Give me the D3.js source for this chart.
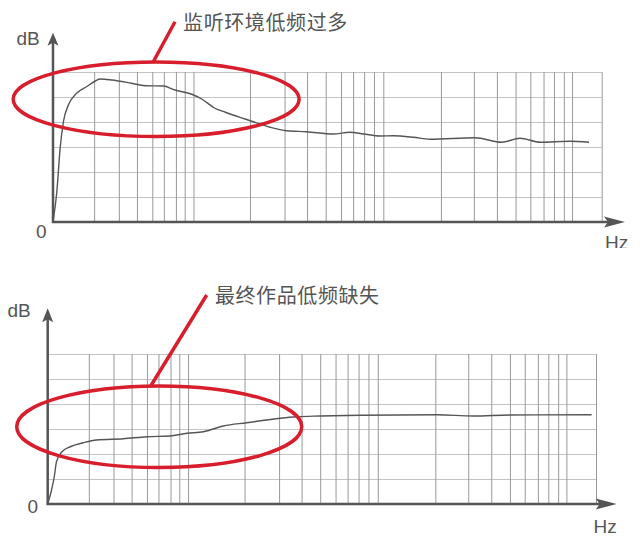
<!DOCTYPE html>
<html>
<head>
<meta charset="utf-8">
<script src="https://cdn.jsdelivr.net/npm/d3@7"></script>
<style>
  html, body { margin: 0; padding: 0; background: #fff; }
  svg { display: block; }
  text { font-family: "Liberation Sans", "Noto Sans CJK SC", sans-serif; fill: #555; }
  .cjk { font-family: "Noto Sans CJK SC", sans-serif; }
</style>
</head>
<body>
<svg id="chart" width="640" height="539"></svg>
<script>
// Grid: x in relative frequency units 0..100 (pseudo-log grid), y in dB units 0..6
const gridX = [7.5, 12.0, 15.3, 18.1, 20.2, 22.4, 24.0, 25.6,
               35.9, 42.2, 46.3, 49.7, 52.5, 54.7, 56.7, 58.5, 60.2,
               70.7, 76.7, 80.9, 84.3, 87.0, 89.4, 91.3, 93.1, 94.6, 100];
const gridY = [1, 2, 3, 4, 5, 6];

// Top: monitoring room, too much low end
const topX = [0, 0.7, 1.3, 1.9, 2.8, 4.3, 6.1, 7.7, 8.6, 10.7, 14.3, 16.8, 20.1, 22.2,
              25.3, 27.1, 29.5, 31.4, 35.0, 36.5, 39.6, 42.6, 46.2, 51.1, 54.1, 56.6,
              59.6, 62.0, 65.7, 68.7, 76.9, 81.8, 85.1, 88.8, 94.2, 97.7];
const topY = [0, 1.21, 2.95, 4.01, 4.68, 5.15, 5.41, 5.64, 5.72, 5.68, 5.55, 5.45, 5.44, 5.28,
              5.11, 4.92, 4.55, 4.39, 4.12, 4.01, 3.79, 3.65, 3.61, 3.52, 3.59, 3.52,
              3.44, 3.45, 3.39, 3.31, 3.37, 3.19, 3.35, 3.19, 3.23, 3.19];

// Bottom: final mix, lacking low end
const botX = [0, 0.7, 1.2, 1.6, 2.6, 4.1, 6.5, 8.9, 13.8, 18.1, 22.3, 25.4, 28.4,
              32.0, 36.3, 42.4, 45.4, 49.7, 57.0, 71.0, 77.6, 84.3, 99.2];
const botY = [0, 0.56, 1.09, 1.69, 2.09, 2.29, 2.45, 2.56, 2.61, 2.69, 2.72, 2.83, 2.89,
              3.12, 3.25, 3.43, 3.49, 3.52, 3.55, 3.57, 3.52, 3.56, 3.57];

const labels = ["监听环境低频过多", "最终作品低频缺失"];

const charts = [
  { xs: topX, ys: topY, label: labels[0],
    left: 53, right: 601.7, base: 222, top: 72, yTip: 32.7, yHead: 13, xTip: 625,
    dB: [16.5, 45], zero: [36, 237.5], hz: [605, 248.5],
    ell: { cx: 18.8, cy: 4.91, rx: 26.06, ry: 1.49 },
    call: [[22.24, 8.01], [18.28, 6.41]], text: [23.7, 7.68] },
  { xs: botX, ys: botY, label: labels[1],
    left: 47.7, right: 596, base: 504, top: 354, yTip: 308.3, yHead: 14, xTip: 616.7,
    dB: [7.5, 317], zero: [27.5, 512.5], hz: [593.5, 532.5],
    ell: { cx: 20.34, cy: 3.09, rx: 25.99, ry: 1.63 },
    call: [[29.0, 8.36], [18.79, 4.72]], text: [30.5, 8.04] }
];

const svg = d3.select("#chart");
const defs = svg.append("defs");
defs.append("clipPath").attr("id", "cut")
  .append("rect").attr("x", 0).attr("y", 0).attr("width", 640).attr("height", 248);

charts.forEach(function(c, i){
  const x = d3.scaleLinear().domain([0, 100]).range([c.left, c.right]);
  const y = d3.scaleLinear().domain([0, 6]).range([c.base, c.top]);
  const g = svg.append("g");

  // horizontal grid
  const gy = g.append("g")
    .attr("transform", `translate(${c.left},0)`)
    .call(d3.axisLeft(y).tickValues(gridY).tickSize(-(c.right - c.left)).tickFormat(""));
  gy.select(".domain").remove();
  gy.selectAll("line").attr("stroke", "#c4c4c4").attr("stroke-width", 1.2);

  // vertical grid
  const gx = g.append("g")
    .attr("transform", `translate(0,${c.base})`)
    .call(d3.axisBottom(x).tickValues(gridX).tickSize(-(c.base - c.top)).tickFormat(""));
  gx.select(".domain").remove();
  gx.selectAll("line").attr("stroke", "#999").attr("stroke-width", 1);

  // curve
  const pts = c.xs.map((v, k) => [v, c.ys[k]]);
  g.append("path")
    .datum(pts)
    .attr("fill", "none")
    .attr("stroke", "#555")
    .attr("stroke-width", 1.4)
    .attr("d", d3.line().x(d => x(d[0])).y(d => y(d[1])).curve(d3.curveMonotoneX));

  // axes with arrows
  g.append("line").attr("x1", c.left).attr("y1", c.base + 1).attr("x2", c.left).attr("y2", c.yTip + 6)
    .attr("stroke", "#555").attr("stroke-width", 2.5);
  g.append("line").attr("x1", c.left - 1).attr("y1", c.base).attr("x2", c.xTip - 8).attr("y2", c.base)
    .attr("stroke", "#555").attr("stroke-width", 2.5);
  const h = c.yHead;
  g.append("path")
    .attr("d", `M${c.left},${c.yTip} L${c.left + 5.5},${c.yTip + h} L${c.left},${c.yTip + h - 3} L${c.left - 5.5},${c.yTip + h} Z`)
    .attr("fill", "#555");
  g.append("path")
    .attr("d", `M${c.xTip},${c.base} L${c.xTip - 21},${c.base - 5.5} L${c.xTip - 17},${c.base} L${c.xTip - 21},${c.base + 5.5} Z`)
    .attr("fill", "#555");

  // axis labels
  g.append("text").attr("x", c.dB[0]).attr("y", c.dB[1]).attr("font-size", 19).text("dB");
  g.append("text").attr("x", c.zero[0]).attr("y", c.zero[1]).attr("font-size", 19).text("0");
  const hz = g.append("text").attr("x", c.hz[0]).attr("y", c.hz[1]).attr("font-size", 19).text("Hz");
  if (i === 0) hz.attr("clip-path", "url(#cut)");

  // annotation
  g.append("ellipse")
    .attr("cx", x(c.ell.cx)).attr("cy", y(c.ell.cy))
    .attr("rx", x(c.ell.rx) - x(0)).attr("ry", y(0) - y(c.ell.ry))
    .attr("fill", "none").attr("stroke", "#d81e2c").attr("stroke-width", 3.5);
  g.append("line")
    .attr("x1", x(c.call[0][0])).attr("y1", y(c.call[0][1]))
    .attr("x2", x(c.call[1][0])).attr("y2", y(c.call[1][1]))
    .attr("stroke", "#d81e2c").attr("stroke-width", 3.5);
  g.append("text").attr("class", "cjk")
    .attr("x", x(c.text[0])).attr("y", y(c.text[1]))
    .attr("font-size", 20).attr("letter-spacing", 0.6)
    .text(c.label);
});
</script>
</body>
</html>
